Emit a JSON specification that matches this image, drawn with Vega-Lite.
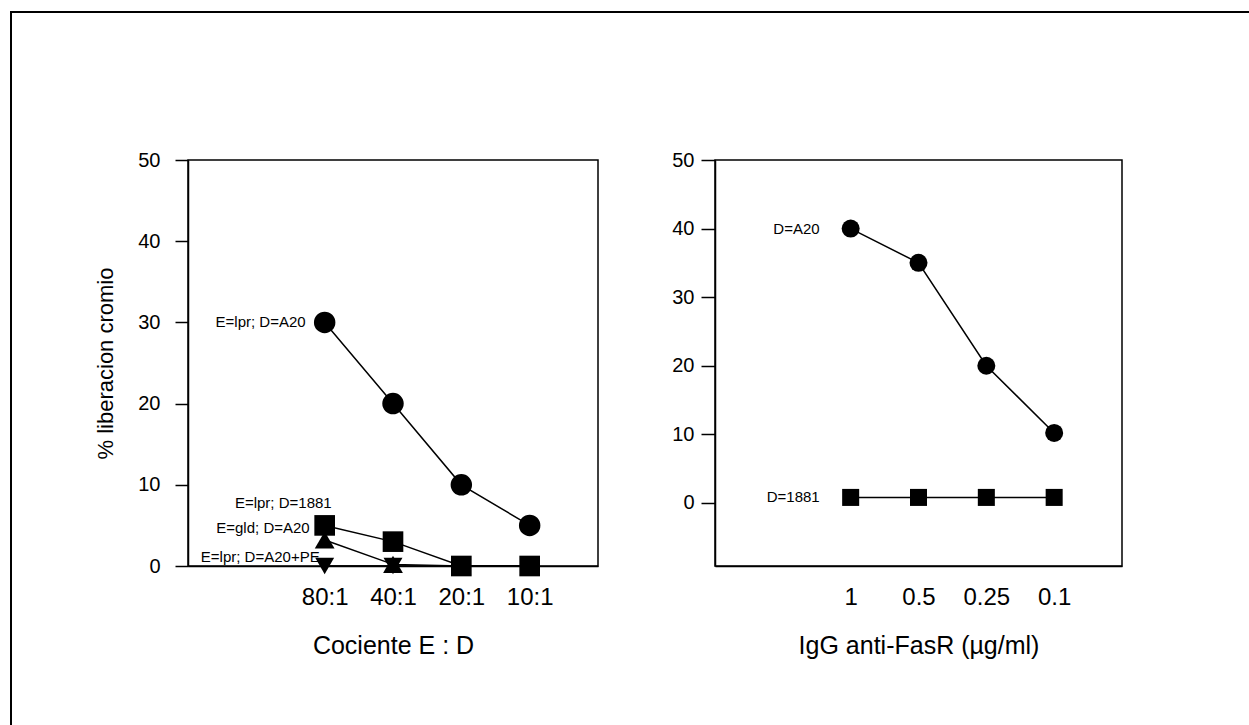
{
  "$schema": "https://vega.github.io/schema/vega-lite/v6.json",
  "background": "white",
  "padding": {"left": 10, "top": 11, "right": 0, "bottom": 0},
  "config": {
    "font": "Liberation Sans",
    "view": {"stroke": "black", "strokeWidth": 1.5},
    "axis": {
      "grid": false,
      "domainColor": "black",
      "domainWidth": 1.5,
      "tickColor": "black",
      "tickWidth": 1.5,
      "labelColor": "black",
      "titleColor": "black",
      "labelFont": "Liberation Sans",
      "titleFont": "Liberation Sans",
      "labelFontSize": 20,
      "titleFontSize": 20,
      "titleFontWeight": "normal"
    }
  },
  "datasets": {
    "left": [
      {"ratio": "80:1", "release": 30, "series": "E=lpr; D=A20"},
      {"ratio": "40:1", "release": 20, "series": "E=lpr; D=A20"},
      {"ratio": "20:1", "release": 10, "series": "E=lpr; D=A20"},
      {"ratio": "10:1", "release": 5, "series": "E=lpr; D=A20"},
      {"ratio": "80:1", "release": 5, "series": "E=lpr; D=1881"},
      {"ratio": "40:1", "release": 3, "series": "E=lpr; D=1881"},
      {"ratio": "20:1", "release": 0, "series": "E=lpr; D=1881"},
      {"ratio": "10:1", "release": 0, "series": "E=lpr; D=1881"},
      {"ratio": "80:1", "release": 3.2, "series": "E=gld; D=A20"},
      {"ratio": "40:1", "release": 0.2, "series": "E=gld; D=A20"},
      {"ratio": "20:1", "release": 0, "series": "E=gld; D=A20"},
      {"ratio": "10:1", "release": 0, "series": "E=gld; D=A20"},
      {"ratio": "80:1", "release": 0, "series": "E=lpr; D=A20+PE"},
      {"ratio": "40:1", "release": 0, "series": "E=lpr; D=A20+PE"},
      {"ratio": "20:1", "release": 0, "series": "E=lpr; D=A20+PE"},
      {"ratio": "10:1", "release": 0, "series": "E=lpr; D=A20+PE"}
    ],
    "right": [
      {"igg": "1", "release": 40, "series": "D=A20"},
      {"igg": "0.5", "release": 35, "series": "D=A20"},
      {"igg": "0.25", "release": 20, "series": "D=A20"},
      {"igg": "0.1", "release": 10.2, "series": "D=A20"},
      {"igg": "1", "release": 0.8, "series": "D=1881"},
      {"igg": "0.5", "release": 0.8, "series": "D=1881"},
      {"igg": "0.25", "release": 0.8, "series": "D=1881"},
      {"igg": "0.1", "release": 0.8, "series": "D=1881"}
    ]
  },
  "hconcat": [
    {
      "width": 410,
      "height": 406,
      "data": {"name": "left"},
      "encoding": {
        "x": {
          "field": "ratio", "type": "ordinal", "sort": null,
          "scale": {"type": "point", "domain": [" ", "80:1", "40:1", "20:1", "10:1"], "padding": 1},
          "axis": {"title": "Cociente E : D", "labelAngle": 0, "ticks": false, "labelPadding": 19, "titlePadding": 24, "labelFontSize": 24, "titleFontSize": 25}
        },
        "y": {
          "field": "release", "type": "quantitative",
          "scale": {"domain": [0, 50], "nice": false, "zero": false},
          "axis": {"title": "% liberacion cromio", "values": [0, 10, 20, 30, 40, 50], "tickSize": 13, "labelPadding": 15, "titlePadding": 20, "titleFontSize": 22}
        }
      },
      "layer": [
        {
          "mark": {"type": "point", "opacity": 0},
          "encoding": {
            "color": {"field": "release", "type": "quantitative",
              "legend": {"title": null, "orient": "none", "direction": "horizontal", "legendX": -177, "legendY": -148,
                "gradientLength": 1260, "gradientThickness": 740, "gradientOpacity": 0, "gradientStrokeWidth": 0,
                "labelExpr": "''", "labelFontSize": 1, "padding": 0, "strokeColor": "black",
                "encode": {"legend": {"update": {"strokeWidth": {"value": 2}}}}}}
          }
        },
        {
          "mark": {"type": "line", "color": "black", "strokeWidth": 1.5},
          "encoding": {"detail": {"field": "series"}}
        },
        {
          "mark": {"type": "point", "filled": true, "color": "black", "opacity": 1},
          "encoding": {
            "shape": {"field": "series", "type": "nominal", "legend": null,
              "scale": {"domain": ["E=lpr; D=A20", "E=lpr; D=1881", "E=gld; D=A20", "E=lpr; D=A20+PE"], "range": ["circle", "square", "triangle-up", "triangle-down"]}},
            "size": {"field": "series", "type": "nominal", "legend": null,
              "scale": {"domain": ["E=lpr; D=A20", "E=lpr; D=1881", "E=gld; D=A20", "E=lpr; D=A20+PE"], "range": [460, 290, 340, 340]}}
          }
        },
        {
          "transform": [{"filter": "datum.ratio == '80:1' && datum.series == 'E=lpr; D=A20'"}],
          "mark": {"type": "text", "align": "right", "baseline": "middle", "dx": -19, "fontSize": 15, "color": "black"},
          "encoding": {"text": {"field": "series"}}
        },
        {
          "transform": [{"filter": "datum.ratio == '80:1' && datum.series == 'E=lpr; D=1881'"}],
          "mark": {"type": "text", "align": "right", "baseline": "middle", "dx": 7, "dy": -22, "fontSize": 15, "color": "black"},
          "encoding": {"text": {"field": "series"}}
        },
        {
          "transform": [{"filter": "datum.ratio == '80:1' && datum.series == 'E=gld; D=A20'"}],
          "mark": {"type": "text", "align": "right", "baseline": "middle", "dx": -15, "dy": -12, "fontSize": 15, "color": "black"},
          "encoding": {"text": {"field": "series"}}
        },
        {
          "transform": [{"filter": "datum.ratio == '80:1' && datum.series == 'E=lpr; D=A20+PE'"}],
          "mark": {"type": "text", "align": "right", "baseline": "middle", "dx": -5, "dy": -9, "fontSize": 15, "color": "black"},
          "encoding": {"text": {"field": "series"}}
        }
      ]
    },
    {
      "width": 407,
      "height": 406,
      "data": {"name": "right"},
      "encoding": {
        "x": {
          "field": "igg", "type": "ordinal", "sort": null,
          "scale": {"type": "point", "domain": [" ", "1", "0.5", "0.25", "0.1"], "padding": 1},
          "axis": {"title": "IgG anti-FasR (µg/ml)", "labelAngle": 0, "ticks": false, "labelPadding": 19, "titlePadding": 24, "labelFontSize": 24, "titleFontSize": 25}
        },
        "y": {
          "field": "release", "type": "quantitative",
          "scale": {"domain": [-9.2, 50], "nice": false, "zero": false},
          "axis": {"title": null, "values": [0, 10, 20, 30, 40, 50], "tickSize": 14, "labelPadding": 7}
        }
      },
      "layer": [
        {
          "mark": {"type": "line", "color": "black", "strokeWidth": 1.5},
          "encoding": {"detail": {"field": "series"}}
        },
        {
          "mark": {"type": "point", "filled": true, "color": "black", "opacity": 1},
          "encoding": {
            "shape": {"field": "series", "type": "nominal", "legend": null,
              "scale": {"domain": ["D=A20", "D=1881"], "range": ["circle", "square"]}},
            "size": {"field": "series", "type": "nominal", "legend": null,
              "scale": {"domain": ["D=A20", "D=1881"], "range": [460, 320]}}
          }
        },
        {
          "transform": [{"filter": "datum.igg == '1'"}],
          "mark": {"type": "text", "align": "right", "baseline": "middle", "dx": -31, "fontSize": 15, "color": "black"},
          "encoding": {"text": {"field": "series"}}
        }
      ]
    }
  ],
  "spacing": 72
}
